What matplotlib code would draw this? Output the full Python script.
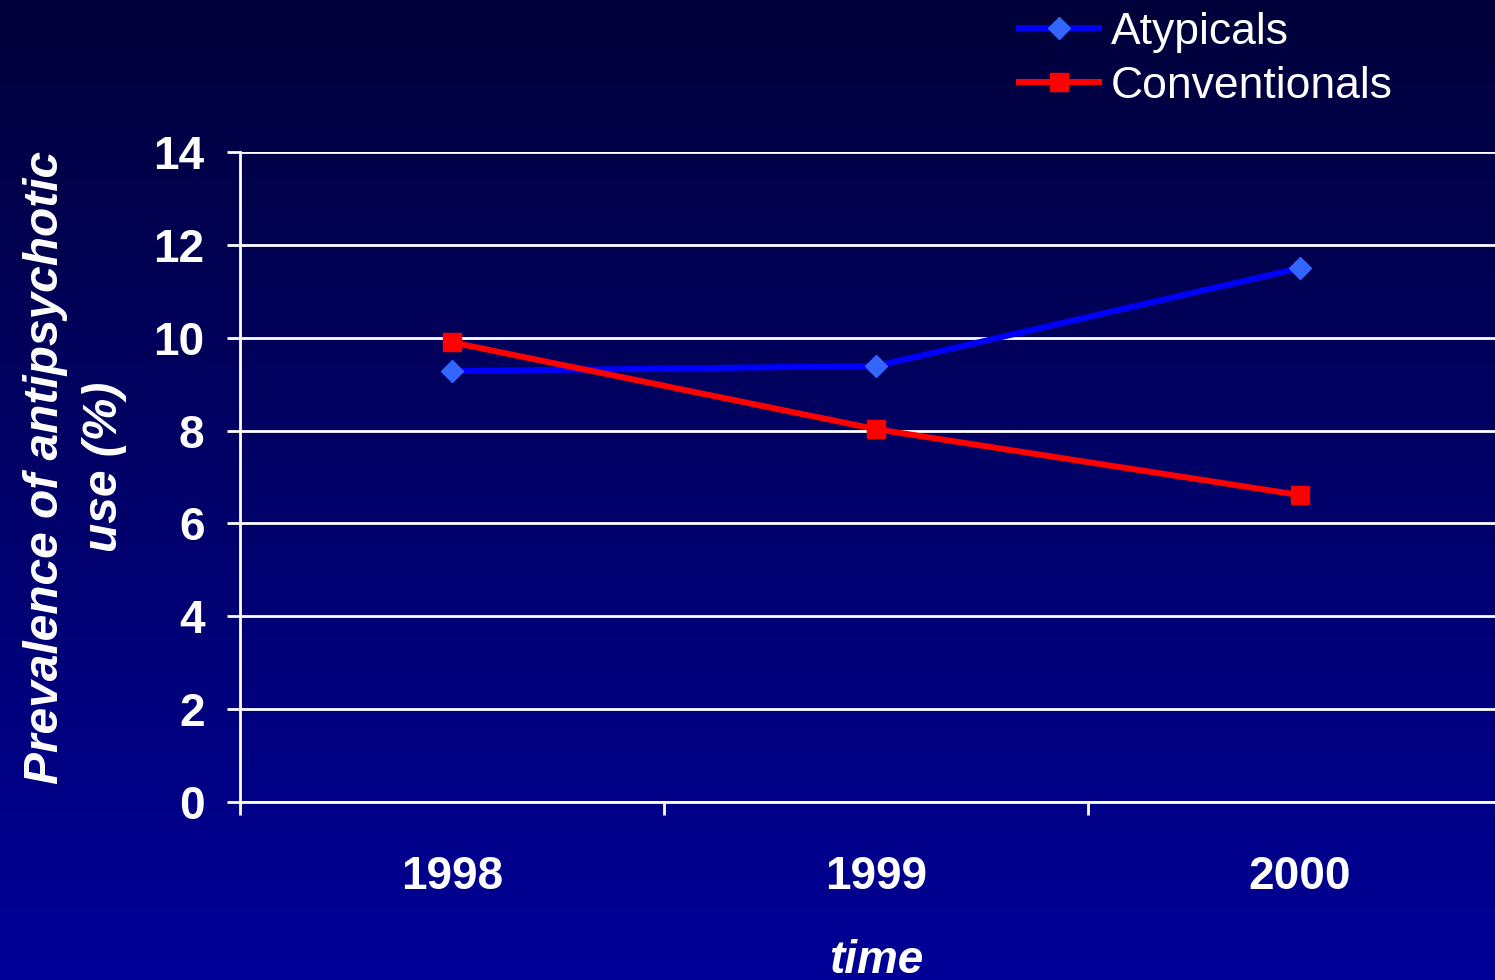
import numpy as np
import matplotlib
matplotlib.use('Agg')
import matplotlib.pyplot as plt
from matplotlib.colors import LinearSegmentedColormap

years = ['1998', '1999', '2000']
atypicals = [9.28, 9.39, 11.5]
conventionals = [9.9, 8.03, 6.61]
y_ticks = [0, 2, 4, 6, 8, 10, 12, 14]

plt.rcParams['font.family'] = ['Liberation Sans', 'DejaVu Sans']

fig = plt.figure(figsize=(14.95, 9.8), dpi=100)

# gradient background
bg = fig.add_axes([0, 0, 1, 1], zorder=0)
grad = np.linspace(0, 1, 256).reshape(-1, 1)
cmap = LinearSegmentedColormap.from_list('bg', ['#00003a', '#000098'])
bg.imshow(grad, aspect='auto', cmap=cmap, extent=[0, 1, 0, 1], origin='upper')
bg.axis('off')

# axes: left at 240px, bottom y=802, top y=152, x spans 3 categories of 424px
ax = fig.add_axes([240 / 1495, (980 - 802) / 980, 3 * 424 / 1495, 650 / 980], zorder=1)
ax.patch.set_alpha(0)

x = np.arange(len(years)) + 0.5
ax.plot(x, atypicals, color='#0000ff', lw=4.3, marker='D', ms=11.5,
        mfc='#3366ff', mec='#3366ff', label='Atypicals', zorder=3)
ax.plot(x, conventionals, color='#ff0000', lw=4.3, marker='s', ms=12.5,
        mfc='#ff0000', mec='#ff0000', label='Conventionals', zorder=3)

ax.set_xlim(0, 3)
ax.set_ylim(0, 14)
ax.set_yticks(y_ticks)
ax.set_xticks([0, 1, 2, 3])
ax.set_xticklabels([])
ax.set_xticks(x, minor=True)
ax.set_xticklabels(years, minor=True)
ax.tick_params(axis='x', which='minor', length=0, pad=38, labelsize=33,
               colors='white')
ax.tick_params(axis='x', which='major', length=9.5, width=2, color='white',
               direction='out')
ax.tick_params(axis='y', length=9.5, width=2, colors='white', labelsize=33,
               pad=16)
for lab in ax.get_xticklabels(minor=True) + ax.get_yticklabels():
    lab.set_fontweight('bold')

ax.grid(axis='y', color='white', lw=2)
for s in ['top', 'right']:
    ax.spines[s].set_visible(False)
ax.spines['left'].set_color('white')
ax.spines['left'].set_linewidth(2)
ax.spines['bottom'].set_color('white')
ax.spines['bottom'].set_linewidth(2)
ax.set_axisbelow(True)

ax.set_ylabel('Prevalence of antipsychotic\nuse (%)', color='white',
              fontsize=34.5, fontweight='bold', fontstyle='italic',
              linespacing=1.4)
ax.yaxis.set_label_coords(-0.089, 0.515)
ax.set_xlabel('time', color='white', fontsize=33, fontweight='bold',
              fontstyle='italic', labelpad=29)

leg = fig.legend(loc='upper left', bbox_to_anchor=(979 / 1495, 1.029),
                 frameon=False, fontsize=32, handlelength=1.8,
                 handletextpad=0.27, labelspacing=0.3)
for t in leg.get_texts():
    t.set_color('white')

fig.savefig('out.png', dpi=100)
